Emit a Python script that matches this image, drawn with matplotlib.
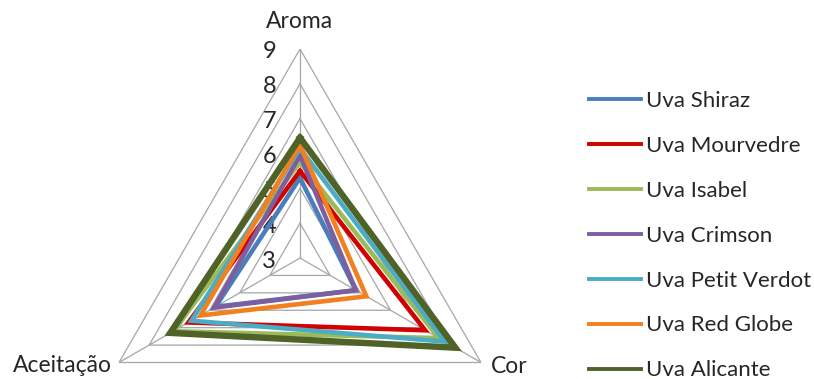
import numpy as np
import matplotlib.pyplot as plt

plt.rcParams['font.family'] = ['Lato', 'DejaVu Sans']

categories = ["Aroma", "Cor", "Aceitação"]
grapes = ["Uva Shiraz", "Uva Mourvedre", "Uva Isabel", "Uva Crimson",
          "Uva Petit Verdot", "Uva Red Globe", "Uva Alicante"]

# scores per attribute: Aroma, Cor, Aceitação
shiraz = [5.3, 4.85, 5.8]
mourvedre = [5.5, 7.15, 6.7]
isabel = [5.75, 7.6, 7.2]
crimson = [5.95, 4.85, 5.85]
petit_verdot = [6.15, 7.8, 6.6]
red_globe = [6.25, 5.2, 6.3]
alicante = [6.45, 8.15, 7.3]
series = [shiraz, mourvedre, isabel, crimson, petit_verdot, red_globe, alicante]

colors = ["#4A7EBB", "#D20000", "#9BBB59", "#7D5FA0",
          "#4BACC6", "#F08020", "#4F6228"]
widths = [3.3, 3.3, 3.3, 3.3, 3.3, 3.3, 4.6]
ticks = [3, 4, 5, 6, 7, 8, 9]

W, H = 814, 379
fig = plt.figure(figsize=(W / 100, H / 100), dpi=100)

# radar centre (px) and radius of the outer ring
cx, cy, R = 300, 258, 209
ax = fig.add_axes([(cx - R) / W, (H - cy - R) / H, 2 * R / W, 2 * R / H],
                  projection='polar')
ax.set_theta_zero_location('N')
ax.set_theta_direction(-1)
ax.set_ylim(3, 9)
ax.grid(False)
ax.spines['polar'].set_visible(False)
ax.set_xticks([])
ax.set_yticks([])
ax.patch.set_alpha(0)

angles = np.linspace(0, 2 * np.pi, len(categories), endpoint=False)
closed = np.append(angles, angles[0])

# triangular grid
for t in ticks[1:]:
    ax.plot(closed, [t] * len(closed), color="#A6A6A6", lw=0.9, zorder=1)
for a in angles:
    ax.plot([a, a], [3, 9], color="#A6A6A6", lw=0.9, zorder=1)

for t in ticks:
    ax.annotate(str(t), xy=(0, t), xytext=(-24, -3), textcoords='offset pixels',
                ha='right', va='center', fontsize=17, color="#262626")

offsets = [(0, 17), (10, -4), (-7, -3)]
aligns = [('center', 'bottom'), ('left', 'center'), ('right', 'center')]
for a, name, off, al in zip(angles, categories, offsets, aligns):
    ax.annotate(name, xy=(a, 9), xytext=off, textcoords='offset pixels',
                ha=al[0], va=al[1], fontsize=16.5, color="#262626",
                annotation_clip=False)

for vals, name, c, w in zip(series, grapes, colors, widths):
    ax.plot(closed, vals + vals[:1], color=c, lw=w, label=name,
            solid_joinstyle='miter', zorder=3)

handles, labels = ax.get_legend_handles_labels()
leg = fig.legend(handles, labels, loc='upper left',
                 bbox_to_anchor=(589 / W, 1 - 91 / H), frameon=False,
                 fontsize=16, handlelength=2.34, handletextpad=0.22,
                 labelspacing=1.12, borderpad=0, borderaxespad=0)
for line in leg.get_lines():
    line.set_linewidth(2.8)
for txt in leg.get_texts():
    txt.set_color("#262626")

fig.savefig("out.png", dpi=100, facecolor="white")
